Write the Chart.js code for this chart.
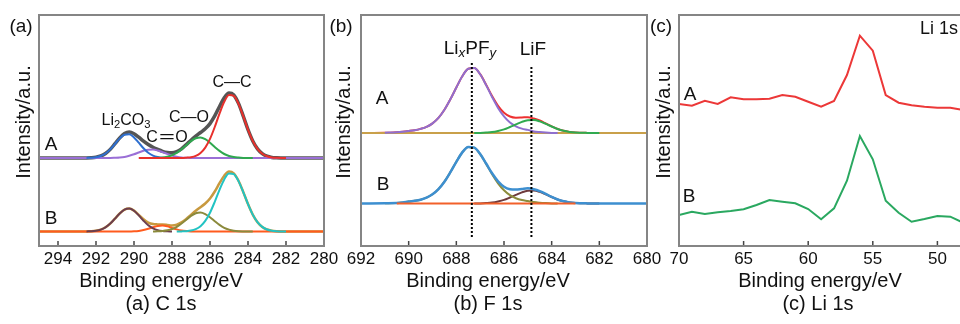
<!DOCTYPE html>
<html><head><meta charset="utf-8">
<script src="https://cdn.jsdelivr.net/npm/chart.js@4.4.1/dist/chart.umd.min.js"></script>
<style>
html,body{margin:0;padding:0;background:#fff;overflow:hidden;width:960px;height:324px;}
body{position:relative;font-family:"Liberation Sans",Arial,sans-serif;color:#111;}
canvas{position:absolute;top:0;}
.t{position:absolute;white-space:nowrap;transform:translate(-50%,-50%);line-height:1;}
.yt{position:absolute;white-space:nowrap;transform:translate(-50%,-50%) rotate(-90deg);line-height:1;font-size:20px;}
sub{font-size:0.7em;vertical-align:-0.3em;line-height:0;}
.dbl{display:inline-block;transform:scaleX(1.7);margin:0 4px;}
</style></head><body>
<canvas id="ca" width="345" height="300" style="left:0"></canvas>
<canvas id="cb" width="345" height="300" style="left:322px"></canvas>
<canvas id="cc" width="370" height="300" style="left:640px"></canvas>

<div class="t" style="left:21px;top:25px;font-size:19px">(a)</div>
<div class="t" style="left:341px;top:25px;font-size:19px">(b)</div>
<div class="t" style="left:661px;top:25px;font-size:19px">(c)</div>

<div class="yt" style="left:23px;top:122px">Intensity/a.u.</div>
<div class="yt" style="left:343px;top:122px">Intensity/a.u.</div>
<div class="yt" style="left:663px;top:122px">Intensity/a.u.</div>

<div class="t" style="left:161px;top:280px;font-size:20px">Binding energy/eV</div>
<div class="t" style="left:488px;top:280px;font-size:20px">Binding energy/eV</div>
<div class="t" style="left:820px;top:280px;font-size:20px">Binding energy/eV</div>

<div class="t" style="left:161px;top:303px;font-size:20px">(a) C 1s</div>
<div class="t" style="left:488px;top:303px;font-size:20px">(b) F 1s</div>
<div class="t" style="left:818px;top:303px;font-size:20px">(c) Li 1s</div>

<div class="t" style="left:51px;top:143px;font-size:19px">A</div>
<div class="t" style="left:51px;top:217px;font-size:19px">B</div>
<div class="t" style="left:126px;top:120px;font-size:16px">Li<sub>2</sub>CO<sub>3</sub></div>
<div class="t" style="left:167px;top:137px;font-size:16px">C<span class="dbl">=</span>O</div>
<div class="t" style="left:189px;top:117px;font-size:16px">C—O</div>
<div class="t" style="left:232px;top:82px;font-size:16px">C—C</div>

<div class="t" style="left:382px;top:97px;font-size:19px">A</div>
<div class="t" style="left:383px;top:183px;font-size:19px">B</div>
<div class="t" style="left:470px;top:47px;font-size:19px">Li<sub><i>x</i></sub>PF<sub><i>y</i></sub></div>
<div class="t" style="left:533px;top:48px;font-size:19px">LiF</div>

<div class="t" style="left:690px;top:93px;font-size:19px">A</div>
<div class="t" style="left:689px;top:195px;font-size:19px">B</div>
<div class="t" style="left:939px;top:28px;font-size:18px">Li 1s</div>

<script>
// ---------- (a) C 1s ----------
const c1sEnergy = [295,294,293,292.5,292.25,292,291.75,291.5,291.25,291,290.75,290.5,290.25,290,289.75,289.5,289.25,289,288.75,288.5,288.25,288,287.75,287.5,287.25,287,286.75,286.5,286.25,286,285.75,285.5,285.25,285,284.75,284.5,284.25,284,283.75,283.5,283.25,283,282.75,282.5,282,281,280];
const N = null;
const c1sA_envelope = [88,88,88,88.1,88.3,88.8,90.0,92.5,96.6,102.3,108.1,112.4,113.9,112.3,108.8,104.9,101.5,98.8,96.7,94.7,93.5,93.2,94.4,97.2,101.4,105.8,109.8,113.5,117.2,122.4,130.1,139.5,148.2,152.9,151.0,142.6,129.9,116.4,105.1,97.1,92.3,89.8,88.6,88.2,88,88,88];
const c1sA_Li2CO3 = [N,N,N,88.1,88.3,88.8,90.0,92.5,96.6,102.1,107.6,111.3,111.7,108.6,103.3,97.7,93.2,90.4,89.0,88.3,88.1,88.0,N,N,N,N,N,N,N,N,N,N,N,N,N,N,N,N,N,N,N,N,N,N,N,N,N];
const c1sA_CdoubleO = [88,88,88,88,88,88,88,88,88,88.2,88.5,89.1,90.2,91.7,93.5,95.2,96.3,96.4,95.5,93.9,92.1,90.5,89.3,88.6,88.3,88.1,88,88,88,88,88,88,88,88,88,88,88,88,88,88,88,88,88,88,88,88,88];
const c1sA_CO = [N,N,N,N,N,N,N,N,N,N,N,N,N,N,N,N,N,88,88.2,88.5,89.3,90.7,93.1,96.6,100.8,104.9,107.7,108.5,106.8,103.3,99.1,95.1,92.0,90.0,88.9,88.4,88.1,88.0,88.0,N,N,N,N,N,N,N,N];
const c1sA_CC = [N,N,N,N,N,N,N,N,N,N,N,N,N,N,88,88,88,88,88,88,88,88,88,88,88.3,88.8,90.1,93.0,98.4,107.1,119.0,132.4,144.2,150.9,150.1,142.2,129.8,116.4,105.1,97.1,92.3,89.8,88.6,88.2,88,N,N];
const c1sB_envelope = [14.5,14.5,14.5,14.6,14.75,15.25,16.4,18.7,22.4,27.4,32.6,36.4,37.4,35.4,31.2,26.7,23.4,21.9,21.6,21.5,21.1,20.6,21.3,23.6,27.0,31.1,35.2,38.8,42.5,47.5,54.5,62.8,70.3,74.4,72.6,65.2,54.0,41.9,31.4,23.8,19.1,16.5,15.3,14.8,14.5,14.5,14.5];
const c1sB_Li2CO3 = [N,N,N,14.6,14.75,15.25,16.4,18.7,22.4,27.4,32.6,36.4,37.4,35.2,30.6,25.3,20.7,17.6,15.8,15.0,14.7,14.5,N,N,N,N,N,N,N,N,N,N,N,N,N,N,N,N,N,N,N,N,N,N,N,N,N];
const c1sB_CdoubleO = [14.5,14.5,14.5,14.5,14.5,14.5,14.5,14.5,14.5,14.5,14.5,14.5,14.5,14.7,15.1,15.9,17.2,18.8,20.1,20.5,19.7,18.1,16.6,15.5,14.9,14.6,14.5,14.5,14.5,14.5,14.5,14.5,14.5,14.5,14.5,14.5,14.5,14.5,14.5,14.5,14.5,14.5,14.5,14.5,14.5,14.5,14.5];
const c1sB_CO = [N,N,N,N,N,N,N,N,N,N,N,N,N,N,N,N,N,14.5,14.7,15.0,15.7,17.0,19.2,22.5,26.3,30.1,32.8,33.5,31.9,28.7,24.8,21.1,18.2,16.4,15.3,14.8,14.6,14.5,14.5,N,N,N,N,N,N,N,N];
const c1sB_CC = [N,N,N,N,N,N,N,N,N,N,N,N,N,N,N,N,N,N,N,N,N,N,14.5,14.6,14.8,15.4,16.9,19.8,25.1,33.3,44.2,56.2,66.6,72.5,71.8,64.9,53.9,41.9,31.4,23.8,19.1,16.5,15.3,14.8,14.5,N,N];
const c1sTicks = {min: 280, max: 295, step: 2};

// ---------- (b) F 1s ----------
const f1sEnergy = [692,691,690.5,690.25,690,689.75,689.5,689.25,689,688.75,688.5,688.25,688,687.75,687.5,687.25,687,686.75,686.5,686.25,686,685.75,685.5,685.25,685,684.75,684.5,684.25,684,683.75,683.5,683.25,683,682.5,682,681,680];
const f1sA_envelope = [113,113.2,113.8,114.3,115,115.8,117.1,119.1,122.6,128.1,136.2,146.7,158.5,169.7,177.2,177.9,171.8,161.3,149.9,140.1,133.2,129.5,128.3,128.5,128.8,127.5,125.5,122.6,119.6,117,115.2,114.1,113.5,113.1,113,113,113];
const f1sA_LixPFy = [N,113.2,113.8,114.3,115,115.8,117.1,119.1,122.6,128.1,136.2,146.7,158.5,169.7,177.2,177.9,171.7,160.9,149,138.1,129.6,123.5,119.7,117.4,116.1,114.6,113.9,113.4,113.1,113,N,N,N,N,N,N,N];
const f1sA_LiF = [N,N,N,N,N,N,N,N,N,N,N,N,N,N,N,113,113.1,113.4,113.9,115,116.6,119,121.6,124.1,125.7,125.9,124.6,122.2,119.5,117,115.2,114.1,113.5,113.1,113,N,N];
const f1sA_base = [113,113,113,113,113,113,113,113,113,113,113,113,113,113,113,113,113,113,113,113,113,113,113,113,113,113,113,113,113,113,113,113,113,113,113,113,113];
const f1sB_envelope = [42.5,42.8,43,43.5,44.5,45.2,46.3,48.3,51.7,56.9,64.3,73.8,84.2,93.6,99,98.4,92.0,82.5,72.7,64.7,59.3,56.8,56.4,57.1,57.7,56.8,54.9,52.1,49.1,46.5,44.7,43.6,43,42.6,42.5,42.5,42.5];
const f1sB_LixPFy = [N,42.8,43,43.5,44.5,45.2,46.3,48.3,51.7,56.9,64.3,73.8,84.2,93.6,99,98.4,91.9,82.1,71.8,62.7,55.7,50.8,47.8,46,45,43.9,43.3,42.9,42.6,42.5,N,N,N,N,N,N,N];
const f1sB_LiF = [N,N,N,N,N,N,N,N,N,N,N,N,N,N,N,42.5,42.6,42.9,43.4,44.5,46.1,48.5,51.1,53.6,55.2,55.4,54.1,51.7,49,46.5,44.7,43.6,43,42.6,42.5,N,N];
const f1sB_base = [N,N,42.5,42.5,42.5,42.5,42.5,42.5,42.5,42.5,42.5,42.5,42.5,42.5,42.5,42.5,42.5,42.5,42.5,42.5,42.5,42.5,42.5,42.5,42.5,42.5,42.5,42.5,42.5,42.5,42.5,42.5,42.5,N,N,N,N];
const f1sPeakLines = [687.35, 684.85];
const f1sTicks = {min: 680, max: 692, step: 2};

// ---------- (c) Li 1s ----------
const li1sEnergy = [70,69,68,67,66,65,64,63,62,61,60,59,58,57,56,55,54,53,52,51,50,49,48,47];
const li1sA = [142,140.3,145.3,142,148.7,146.7,146.7,147.3,151,149.3,144.3,139.3,145,171,210.3,195.3,151,143.3,140.7,139.3,138.3,138.3,136,134];
const li1sB = [31,34.3,32,33.7,35,36.7,41,46,44.3,42.7,37,26.7,37.7,65.3,110,86.7,45.3,33.3,24.3,27,30,29.3,23.3,20];
const li1sTicks = {min: 45, max: 70, step: 5};

// ---------- helpers ----------
const FONT = "'Liberation Sans', Arial, sans-serif";
function pts(xs, ys) { return xs.map((x, i) => ({x: x, y: ys[i]})); }
function ds(xs, ys, color, width, order, smooth) {
  return {data: pts(xs, ys), borderColor: color, borderWidth: width, pointRadius: 0, fill: false,
          tension: smooth ? 0.4 : 0, cubicInterpolationMode: smooth ? 'monotone' : 'default',
          spanGaps: false, order: order};
}
const frameTicks = {
  id: 'frameTicks',
  afterDatasetsDraw(chart) {
    const ctx = chart.ctx, a = chart.chartArea, x = chart.scales.x;
    ctx.save();
    ctx.strokeStyle = '#444'; ctx.lineWidth = 1.5;
    x.ticks.forEach(t => {
      const px = x.getPixelForValue(t.value);
      if (px > a.left + 3 && px < a.right - 3) {
        ctx.beginPath(); ctx.moveTo(px, a.bottom); ctx.lineTo(px, a.bottom - 5); ctx.stroke();
      }
    });
    ctx.strokeStyle = '#858585'; ctx.lineWidth = 2;
    ctx.strokeRect(a.left, a.top, a.right - a.left, a.bottom - a.top);
    ctx.restore();
  }
};
function makeChart(id, datasets, tk, padRight) {
  return new Chart(document.getElementById(id), {
    type: 'line',
    data: {datasets: datasets},
    options: {
      responsive: false, animation: false, events: [],
      layout: {padding: {left: 39, right: padRight, top: 15, bottom: 0}},
      plugins: {legend: {display: false}, tooltip: {enabled: false}},
      scales: {
        x: {type: 'linear', reverse: true, min: tk.min, max: tk.max,
            ticks: {stepSize: tk.step, includeBounds: false, autoSkip: false, maxRotation: 0, minRotation: 0,
                    padding: 3, color: '#111', font: {family: FONT, size: 17}, callback: v => String(v)},
            grid: {display: false, drawTicks: false}, border: {display: false},
            afterFit(s) { s.height = 54; s.paddingLeft = 0; s.paddingRight = 0; }},
        y: {display: false, min: 0, max: 231}
      }
    },
    plugins: [frameTicks]
  });
}

// (a)
makeChart('ca', [
  ds(c1sEnergy, c1sA_CC, '#e8302c', 2, 1, true),
  ds(c1sEnergy, c1sA_CO, '#2fa84f', 2, 2, true),
  ds(c1sEnergy, c1sA_Li2CO3, '#2e6fd0', 2, 3, true),
  ds(c1sEnergy, c1sA_CdoubleO, '#9a6fd6', 2, 4, true),
  ds(c1sEnergy, c1sA_envelope, '#555555', 3.5, 5, true),
  ds(c1sEnergy, c1sB_CC, '#22c3c3', 2, 1, true),
  ds(c1sEnergy, c1sB_CO, '#8b8a3c', 2, 2, true),
  ds(c1sEnergy, c1sB_Li2CO3, '#6c3e4e', 2, 3, true),
  ds(c1sEnergy, c1sB_CdoubleO, '#ff5b1e', 2, 4, true),
  ds(c1sEnergy, c1sB_envelope, '#c8993f', 2.5, 5, true)
], c1sTicks, 21);

// (b)
const peakLineSets = f1sPeakLines.map((e, i) => ({
  data: [{x: e, y: 9}, {x: e, y: i === 0 ? 183 : 181}], borderColor: '#000', borderWidth: 2,
  borderDash: [2, 2], pointRadius: 0, fill: false, order: 0
}));
makeChart('cb', peakLineSets.concat([
  ds(f1sEnergy, f1sA_LiF, '#30aa50', 2, 1, true),
  ds(f1sEnergy, f1sA_LixPFy, '#8f6fcf', 2, 2, true),
  ds(f1sEnergy, f1sA_base, '#c9a04a', 2, 3, true),
  ds(f1sEnergy, f1sA_envelope, '#ee3030', 2, 4, true),
  ds(f1sEnergy, f1sB_base, '#f2602a', 2, 1, true),
  ds(f1sEnergy, f1sB_envelope, '#3d8fd0', 2.5, 2, true),
  ds(f1sEnergy, f1sB_LixPFy, '#8c8c3c', 2, 3, true),
  ds(f1sEnergy, f1sB_LiF, '#6e3a3c', 2, 4, true)
]), f1sTicks, 20);

// (c)
makeChart('cc', [
  ds(li1sEnergy, li1sA, '#ec3838', 2, 1, false),
  ds(li1sEnergy, li1sB, '#2aa860', 2, 2, false)
], li1sTicks, 8);
</script>
</body></html>
